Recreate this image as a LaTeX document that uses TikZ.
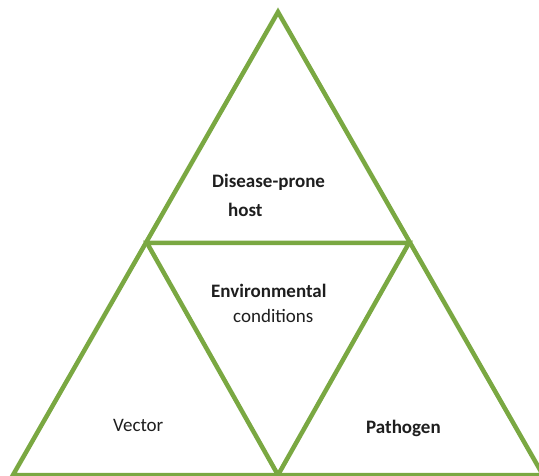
\documentclass[tikz,border=0pt]{standalone}
\usepackage{fontspec}
\setmainfont{Carlito}
\definecolor{leaf}{RGB}{122,168,66}
\definecolor{ink}{RGB}{30,30,30}
\begin{document}
\begin{tikzpicture}[x=1pt,y=-1pt,
  edge/.style={draw=leaf,line width=4.5pt,line join=miter},
  lbl/.style={anchor=base west,inner sep=0pt,text=ink,font=\fontsize{19}{23}\selectfont}]
\useasboundingbox (0,0) rectangle (539,476);
\clip (0,0) rectangle (539,476);
\coordinate (A) at (278,12);
\coordinate (L) at (13,475);
\coordinate (R) at (543,475);
\coordinate (ML) at (147,243);
\coordinate (MR) at (409,243);
\coordinate (MB) at (278,475);
\draw[edge] (A) -- (L) -- (R) -- cycle;
\draw[edge] (ML) -- (MR) -- (MB) -- cycle;
\node[lbl,font=\fontsize{19}{23}\selectfont\bfseries] (t1) at (212,188) {Disease-prone};
\node[lbl,font=\fontsize{19}{23}\selectfont\bfseries] (t2) at (228,217) {host};
\node[lbl,font=\fontsize{19}{23}\selectfont\bfseries] (t3) at (211,298) {Environmental};
\node[lbl] (t4) at (233,323) {conditions};
\node[lbl] (t5) at (113,431) {Vector};
\node[lbl,font=\fontsize{19}{23}\selectfont\bfseries] (t6) at (366,433) {Pathogen};
\end{tikzpicture}
\end{document}
